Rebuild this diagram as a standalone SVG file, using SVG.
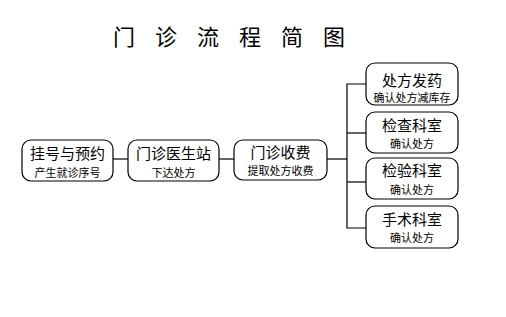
<svg xmlns="http://www.w3.org/2000/svg" width="506" height="317" viewBox="0 0 506 317">
<style>
.box{fill:#fff;stroke:#000;stroke-width:1.2}
.t{font-family:"Noto Sans CJK SC","Noto Sans CJK JP",sans-serif;fill:#000;text-anchor:middle}
.m{font-size:15px}
.s{font-size:11px}
.ln{stroke:#000;stroke-width:1.2;fill:none}
</style>
<rect width="506" height="317" fill="#fff"/>
<text class="t" x="113" y="45" style="text-anchor:start;font-size:22px;letter-spacing:20px">门诊流程简图</text>
<g id="connectors">
<line class="ln" x1="112" y1="159" x2="128" y2="159"/>
<line class="ln" x1="219" y1="159" x2="234" y2="159"/>
<line class="ln" x1="327" y1="159" x2="347" y2="159"/>
<polyline class="ln" points="366,84 347,84 347,228 366,228"/>
<line class="ln" x1="347" y1="133" x2="366" y2="133"/>
<line class="ln" x1="347" y1="182" x2="366" y2="182"/>
</g>
<g id="n1"><rect class="box" x="22" y="140" width="91" height="41" rx="9"/><text class="t m" x="67.5" y="159">挂号与预约</text><text class="t s" x="67.5" y="177">产生就诊序号</text></g>
<g id="n2"><rect class="box" x="128" y="140" width="91" height="41" rx="9"/><text class="t m" x="173.5" y="159">门诊医生站</text><text class="t s" x="173.5" y="177">下达处方</text></g>
<g id="n3"><rect class="box" x="234" y="140" width="93" height="40" rx="9"/><text class="t m" x="280.5" y="158">门诊收费</text><text class="t s" x="280.5" y="175">提取处方收费</text></g>
<g id="n4"><rect class="box" x="366" y="63" width="92" height="42" rx="9"/><text class="t m" x="412" y="86">处方发药</text><text class="t s" x="412" y="102">确认处方减库存</text></g>
<g id="n5"><rect class="box" x="366" y="112" width="92" height="41" rx="9"/><text class="t m" x="412" y="131">检查科室</text><text class="t s" x="412" y="148">确认处方</text></g>
<g id="n6"><rect class="box" x="366" y="158" width="92" height="41" rx="9"/><text class="t m" x="412" y="176">检验科室</text><text class="t s" x="412" y="194">确认处方</text></g>
<g id="n7"><rect class="box" x="366" y="206" width="92" height="42" rx="9"/><text class="t m" x="412" y="225">手术科室</text><text class="t s" x="412" y="242">确认处方</text></g>
</svg>
